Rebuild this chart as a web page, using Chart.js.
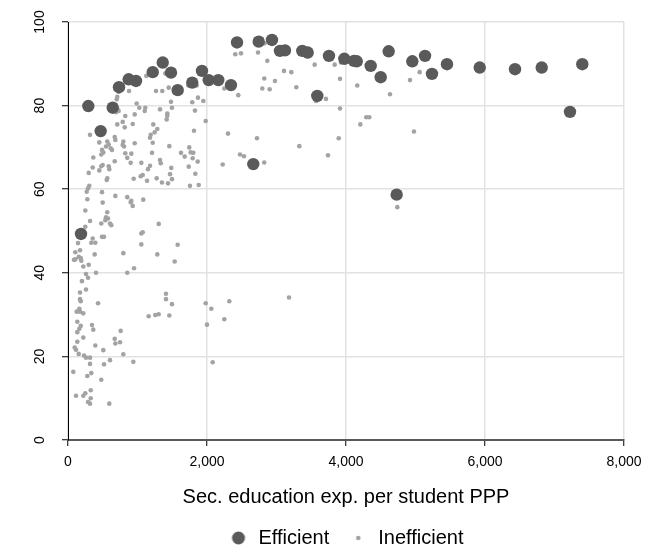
<!DOCTYPE html>
<html>
<head>
<meta charset="utf-8">
<script src="https://cdn.jsdelivr.net/npm/chart.js@4.4.0/dist/chart.umd.min.js"></script>
<style>
  html, body { margin: 0; padding: 0; background: #fff; }
</style>
</head>
<body>
<canvas id="myChart" width="645" height="551"></canvas>
<script>
// efficient countries (big dark dots)
var xEff = [187, 292, 470, 643, 734, 873, 978, 1219, 1363, 1482, 1578, 1788, 1928, 2024, 2163, 2345, 2432, 2744, 2666, 2935,
  3050, 3122, 3371, 3449, 3587, 3755, 3976, 4115, 4154, 4355, 4499, 4614, 4729, 4954, 5137, 5237, 5453, 5924, 6432, 6816, 7400, 7223];
var yEff = [49.3, 79.9, 73.9, 79.5, 84.4, 86.3, 85.9, 88.0, 90.3, 87.9, 83.7, 85.5, 88.3, 86.1, 86.1, 84.9, 95.1, 95.3, 66.0, 95.7,
  93.1, 93.2, 93.1, 92.7, 82.3, 91.9, 91.2, 90.7, 90.6, 89.5, 86.8, 93.0, 58.7, 90.6, 91.9, 87.6, 89.9, 89.1, 88.7, 89.1, 89.9, 78.5];

// inefficient countries (small grey dots)
var xIneff = [2407, 2489, 2734, 2830, 2935, 2868, 3424, 2824, 2978, 2796, 2902, 3108, 3213, 3285, 3549, 3837, 3928, 3914, 4115, 4201,
  4162, 3568, 3712, 3914, 4633, 4921, 5060, 2719, 3328, 3741, 3895, 4206, 4292, 4335, 4978, 2824, 4738, 3180, 2162, 2249,
  2450, 1981, 1947, 1870, 1788, 1827, 1731, 1852, 1127, 1400, 1266, 1357, 1449, 878, 729, 748, 709, 701, 1482, 1496,
  1324, 1429, 1429, 1420, 988, 1026, 1112, 1104, 709, 729, 691, 824, 960, 787, 709, 816, 931, 1227, 1285, 1247,
  1190, 1180, 1219, 1813, 2302, 317, 450, 565, 586, 547, 672, 681, 614, 633, 796, 787, 806, 960, 1458, 1745,
  1765, 1803, 1626, 1679, 1794, 1866, 1209, 1324, 1334, 1180, 1737, 2226, 2475, 2532, 1486, 1468, 1496, 1832, 1276, 1352,
  1439, 1755, 1881, 489, 508, 479, 824, 853, 911, 902, 364, 672, 499, 479, 450, 586, 594, 355, 298, 1055,
  1151, 1075, 1046, 1137, 945, 565, 557, 306, 288, 269, 489, 681, 853, 911, 902, 278, 499, 931, 1083, 249,
  565, 547, 576, 537, 479, 604, 623, 317, 249, 1305, 1075, 1055, 355, 489, 518, 144, 335, 393, 1055, 105,
  173, 384, 796, 1285, 105, 86, 154, 183, 191, 220, 298, 950, 853, 259, 288, 403, 201, 259, 173, 173,
  183, 432, 163, 1578, 1535, 1410, 1410, 1496, 1981, 2062, 2321, 173, 125, 220, 1161, 1256, 1305, 1458, 2000, 2249,
  134, 183, 163, 134, 345, 364, 758, 220, 134, 672, 681, 748, 393, 96, 115, 508, 154, 796, 230, 259,
  317, 604, 940, 2082, 317, 518, 76, 335, 278, 479, 327, 249, 220, 115, 327, 288, 317, 594];
var yIneff = [92.3, 92.5, 92.7, 94.9, 95.0, 90.7, 91.9, 86.5, 85.9, 84.1, 83.9, 88.3, 88.0, 84.4, 89.8, 89.8, 90.3, 86.4, 90.3, 90.0,
  84.8, 81.1, 81.6, 79.3, 82.7, 86.1, 88.0, 72.2, 70.3, 68.1, 72.2, 75.5, 77.2, 77.2, 73.8, 66.4, 55.7, 34.1, 85.3, 84.1,
  82.5, 76.3, 81.1, 81.9, 80.8, 78.8, 84.8, 84.8, 87.1, 87.7, 83.5, 83.5, 84.3, 83.5, 83.3, 83.7, 82.1, 81.5, 80.9, 79.5,
  79.1, 78.1, 77.6, 76.7, 80.5, 79.5, 79.5, 78.7, 79.3, 78.7, 78.4, 77.5, 77.9, 76.1, 75.5, 74.8, 75.6, 75.5, 74.4, 73.6,
  73.0, 72.3, 71.1, 74.0, 73.3, 73.0, 71.2, 71.4, 70.7, 70.2, 72.5, 71.8, 69.8, 69.4, 71.4, 70.6, 70.2, 71.0, 70.3, 70.0,
  68.8, 68.7, 68.7, 67.8, 67.4, 66.6, 68.7, 67.0, 66.2, 65.6, 65.4, 65.9, 68.3, 67.9, 65.1, 63.6, 62.4, 63.7, 62.6, 61.6,
  61.4, 60.8, 61.0, 69.4, 68.8, 68.3, 68.6, 67.5, 68.5, 66.3, 67.6, 66.7, 65.8, 65.5, 64.5, 65.5, 64.8, 65.2, 63.9, 66.3,
  64.8, 63.4, 63.1, 62.0, 62.5, 62.6, 62.2, 60.8, 60.2, 59.4, 59.3, 58.4, 58.1, 57.2, 56.9, 57.6, 56.8, 56.0, 57.5, 54.9,
  54.5, 53.3, 53.0, 52.6, 51.8, 51.8, 51.4, 52.4, 51.0, 51.7, 49.7, 49.4, 48.2, 48.6, 48.6, 47.1, 47.2, 47.2, 46.8, 44.9,
  45.4, 44.4, 44.7, 44.4, 43.2, 43.1, 43.8, 43.5, 42.9, 41.5, 41.9, 41.1, 40.0, 39.7, 38.8, 40.0, 38.0, 36.0, 35.3, 33.7,
  33.2, 32.7, 31.4, 46.7, 42.7, 35.0, 33.7, 32.5, 32.7, 31.4, 33.2, 30.7, 30.7, 30.3, 29.6, 29.9, 30.1, 29.8, 27.6, 28.9,
  28.3, 27.3, 26.6, 25.8, 27.5, 26.4, 26.1, 24.5, 23.5, 24.2, 23.1, 23.4, 22.6, 22.1, 21.6, 21.5, 20.6, 20.5, 20.2, 19.7,
  19.7, 19.1, 18.7, 18.6, 18.2, 18.1, 16.3, 16.0, 15.3, 14.4, 11.9, 11.2, 10.6, 10.6, 10.0, 9.1, 8.7, 8.7];

var seriesNames = ['Efficient', 'Inefficient'];
var xTicks = [0, 2000, 4000, 6000, 8000];
var yTicks = [0, 20, 40, 60, 80, 100];
var xTitle = 'Sec. education exp. per student PPP';

// ----------------------------------------------------------------

var effColor = '#5a5a5a';
var ineffColor = '#a3a3a3';
var fontFamily = 'Liberation Sans, Arial, sans-serif';

function toPoints(xs, ys) {
  var pts = [];
  for (var i = 0; i < xs.length; i++) {
    pts.push({ x: xs[i], y: ys[i] });
  }
  return pts;
}

// little canvases so the legend shows a big and a small dot
function dotIcon(r, color) {
  var c = document.createElement('canvas');
  c.width = 20;
  c.height = 20;
  var g = c.getContext('2d');
  g.fillStyle = color;
  g.beginPath();
  g.arc(10, 10, r, 0, Math.PI * 2);
  g.fill();
  return c;
}
var legendIcons = [dotIcon(6.5, effColor), dotIcon(2.3, ineffColor)];

const data = {
  datasets: [{
    label: seriesNames[0],
    data: toPoints(xEff, yEff),
    backgroundColor: effColor,
    borderWidth: 0,
    pointRadius: 6.2,
    pointHoverRadius: 6.2
  }, {
    label: seriesNames[1],
    data: toPoints(xIneff, yIneff),
    backgroundColor: ineffColor,
    borderWidth: 0,
    pointRadius: 2.3,
    pointHoverRadius: 2.3
  }]
};

const config = {
  type: 'scatter',
  data: data,
  options: {
    responsive: false,
    animation: false,
    layout: {
      padding: { top: 22, left: 0, right: 0, bottom: -7 }
    },
    plugins: {
      tooltip: { enabled: false },
      legend: {
        position: 'bottom',
        fullSize: false,
        labels: {
          usePointStyle: true,
          boxWidth: 20,
          boxHeight: 20,
          padding: 19,
          color: '#000',
          font: { family: fontFamily, size: 20 },
          generateLabels: function (chart) {
            var items = Chart.defaults.plugins.legend.labels.generateLabels(chart);
            items.forEach(function (it, i) {
              it.pointStyle = legendIcons[i];
            });
            return items;
          }
        }
      }
    },
    scales: {
      x: {
        type: 'linear',
        min: xTicks[0],
        max: xTicks[xTicks.length - 1],
        afterBuildTicks: function (scale) {
          scale.ticks = xTicks.map(function (v) { return { value: v }; });
        },
        afterFit: function (scale) {
          scale.height = 69;
          scale.paddingRight = 21;
        },
        ticks: {
          color: '#000',
          padding: 8,
          font: { family: fontFamily, size: 14 },
          callback: function (v) { return v.toLocaleString('en-US'); }
        },
        grid: { color: '#e2e2e2', lineWidth: 1.5, tickColor: '#000', tickLength: 6, tickWidth: 1 },
        border: { color: '#595959', width: 2 },
        title: {
          display: true,
          text: xTitle,
          color: '#000',
          padding: { top: 0, bottom: 0 },
          font: { family: fontFamily, size: 20 }
        }
      },
      y: {
        min: yTicks[0],
        max: yTicks[yTicks.length - 1],
        afterBuildTicks: function (scale) {
          scale.ticks = yTicks.map(function (v) { return { value: v }; });
        },
        afterFit: function (scale) { scale.width = 68; },
        ticks: {
          color: '#000',
          minRotation: 90,
          maxRotation: 90,
          crossAlign: 'center',
          padding: 10,
          font: { family: fontFamily, size: 14 }
        },
        grid: { color: '#e2e2e2', lineWidth: 1.5, tickColor: '#000', tickLength: 6, tickWidth: 1 },
        border: { color: '#000', width: 1 }
      }
    }
  }
};

var canvas = document.getElementById('myChart').getContext('2d');
var myChart = new Chart(canvas, config);
</script>
</body>
</html>
